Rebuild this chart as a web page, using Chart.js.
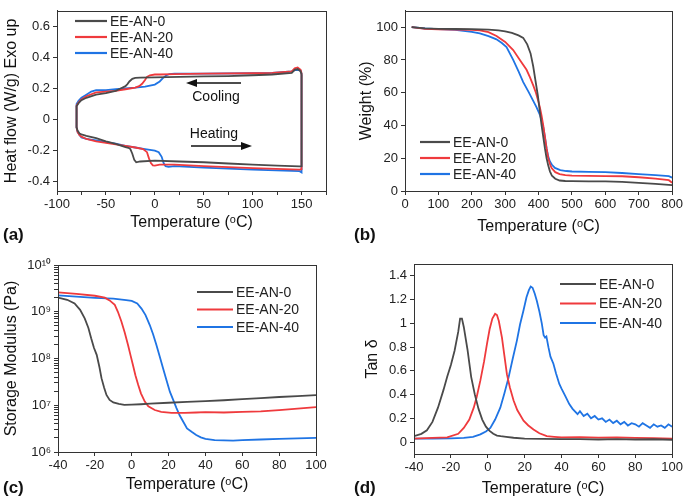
<!DOCTYPE html>
<html>
<head>
<meta charset="utf-8">
<script src="https://cdn.jsdelivr.net/npm/chart.js@4.4.1/dist/chart.umd.min.js"></script>
<style>
  body { margin: 0; background: #fff; width: 685px; height: 500px; position: relative; overflow: hidden; font-family: "Liberation Sans", Arial, sans-serif; }
  canvas { position: absolute; }
  .tag { position: absolute; font-weight: bold; font-size: 17px; color: #111; }
</style>
</head>
<body>
<canvas id="dscChart" width="340" height="250" style="left:0;top:0"></canvas>
<canvas id="tgaChart" width="345" height="250" style="left:340px;top:0"></canvas>
<canvas id="modChart" width="340" height="250" style="left:0;top:250px"></canvas>
<canvas id="tanChart" width="345" height="250" style="left:340px;top:250px"></canvas>
<div class="tag" style="left:3px;top:225px">(a)</div>
<div class="tag" style="left:354px;top:225px">(b)</div>
<div class="tag" style="left:3px;top:478px">(c)</div>
<div class="tag" style="left:354px;top:478px">(d)</div>
<script>
const seriesNames = ['EE-AN-0', 'EE-AN-20', 'EE-AN-40'];
const seriesColors = ['#4a4a4a', '#ef3a3d', '#1f74e4'];

// (a) DSC loops: cooling 150 -> -80 then heating -80 -> 150
const aTemp0 = [150,149,146,143,140,120,100,75,50,25,0,-15,-20,-23,-26,-28,-30,-35,-40,-50,-60,-70,-75,-78,-80,-80,-79,-77,-75,-70,-60,-50,-40,-30,-27,-25,-23,-21,-19,-15,0,25,50,75,100,125,148,150,150];
const aFlow0 = [0.29,0.31,0.325,0.32,0.3,0.29,0.285,0.28,0.278,0.275,0.272,0.27,0.268,0.262,0.245,0.228,0.215,0.2,0.185,0.17,0.16,0.14,0.125,0.105,0.085,-0.05,-0.07,-0.09,-0.095,-0.105,-0.12,-0.14,-0.157,-0.178,-0.182,-0.19,-0.22,-0.26,-0.275,-0.27,-0.265,-0.27,-0.275,-0.283,-0.29,-0.297,-0.302,-0.3,0.29];
const aTemp20 = [150,149,146,143,140,120,100,50,20,5,0,-5,-8,-10,-13,-16,-20,-30,-40,-50,-60,-70,-75,-78,-80,-80,-79,-77,-75,-70,-60,-50,-40,-30,-20,-12,-8,-6,-4,-2,0,5,20,50,100,148,150,150];
const aFlow20 = [0.3,0.32,0.335,0.33,0.31,0.3,0.298,0.295,0.293,0.29,0.29,0.285,0.275,0.255,0.23,0.215,0.205,0.195,0.185,0.18,0.175,0.15,0.13,0.11,0.09,-0.05,-0.08,-0.1,-0.11,-0.125,-0.14,-0.15,-0.16,-0.17,-0.18,-0.19,-0.21,-0.25,-0.28,-0.295,-0.297,-0.29,-0.29,-0.3,-0.313,-0.322,-0.32,0.3];
const aTemp40 = [150,149,146,143,140,120,100,50,20,15,12,8,5,0,-10,-20,-30,-40,-50,-60,-65,-70,-75,-78,-80,-80,-79,-77,-75,-70,-60,-50,-40,-30,-20,-10,0,4,7,9,11,14,20,50,100,148,150,150];
const aFlow40 = [0.3,0.315,0.32,0.318,0.31,0.3,0.298,0.296,0.295,0.293,0.285,0.265,0.245,0.225,0.212,0.205,0.2,0.195,0.19,0.19,0.18,0.16,0.14,0.12,0.1,-0.05,-0.08,-0.1,-0.115,-0.125,-0.135,-0.145,-0.155,-0.17,-0.18,-0.19,-0.2,-0.21,-0.24,-0.28,-0.3,-0.305,-0.3,-0.31,-0.323,-0.332,-0.34,0.3];
const aXTicks = [-100, -50, 0, 50, 100, 150];
const aXMinor = [-75, -25, 25, 75, 125, 175];
const aYTicks = [-0.4, -0.2, 0, 0.2, 0.4, 0.6];

// (b) TGA
const bTemp0 = [20,60,100,150,200,250,280,300,320,340,354,366,376,384,391,398,404,409,414,419,424,429,434,440,450,463,480,500,550,600,650,700,750,800];
const bWt0 = [100,99.3,99,98.9,98.8,98.5,98,97.5,96.5,95,93.5,89.5,84,76,67,58,48,40,33,26,20,15.5,12,9.3,7.5,6.4,6.1,6,5.9,5.9,5.6,5,4.4,3.6];
const bTemp20 = [20,60,100,150,200,224,250,274,300,324,344,364,374,384,392,399,404,409,414,419,424,429,434,439,450,463,480,500,550,600,650,700,750,790,800];
const bWt20 = [100,99,98.7,98.6,98.4,98,97,94.6,91,86,80,74,69.5,64.5,60,55,51,46,40,33,26,20,16.5,14,11.5,10.3,9.7,9.4,9.2,9.1,9,8.4,7.6,6.6,5];
const bTemp40 = [20,60,100,150,200,224,250,274,290,304,324,340,354,370,384,394,404,409,414,419,424,429,434,440,449,465,483,500,550,600,650,700,750,790,800];
const bWt40 = [100,99.2,98.8,98.3,97.2,96.2,94.5,92.6,90.3,87.8,80,73,66.5,60.5,55,51,46.5,43,39,33,26,21,18,16,14.1,12.8,12.2,11.9,11.7,11.5,11,10.3,9.7,9.1,8.2];
const bXTicks = [0, 100, 200, 300, 400, 500, 600, 700, 800];
const bYTicks = [0, 20, 40, 60, 80, 100];

// (c) storage modulus, Pa
const cTemp0 = [-40,-35,-31,-28,-25.5,-23.5,-22,-20.5,-19,-17.5,-16.4,-15,-13.7,-12,-10,-7,-4,0,5,10,20,30,40,50,60,70,80,90,100];
const cMod0 = [2.0e9,1.8e9,1.5e9,1.1e9,7.2e8,4.5e8,2.7e8,1.7e8,1.2e8,6.5e7,3.8e7,2.4e7,1.66e7,1.3e7,1.15e7,1.07e7,1.02e7,1.03e7,1.05e7,1.08e7,1.13e7,1.18e7,1.23e7,1.28e7,1.35e7,1.42e7,1.5e7,1.57e7,1.64e7];
const cTemp20 = [-40,-30,-20,-14.6,-12,-9.2,-7.5,-5.6,-3.8,-2,-0.6,0.7,2,3.5,5,7.1,9,12.5,16,21.6,28.8,35,40,50,60,70,80,90,100];
const cMod20 = [2.6e9,2.4e9,2.2e9,2.0e9,1.75e9,1.4e9,1.0e9,6.2e8,3.6e8,1.95e8,1.15e8,7.2e7,4.4e7,2.75e7,1.8e7,1.2e7,9.5e6,7.9e6,7.2e6,6.9e6,6.9e6,7.0e6,7.1e6,7.0e6,7.2e6,7.4e6,7.9e6,8.5e6,9.1e6];
const cTemp40 = [-40,-30,-20,-10,-3,0,3,5.3,7.5,9.8,11.6,13.4,15.2,17,18.8,20.7,22.5,24.3,26,27.9,30,32.5,35,37.5,40,45,50,55,60,70,80,90,100];
const cMod40 = [2.24e9,2.1e9,1.98e9,1.9e9,1.78e9,1.7e9,1.5e9,1.17e9,8.5e8,5.2e8,3.3e8,1.95e8,1.1e8,6.2e7,3.5e7,1.95e7,1.3e7,8.7e6,6.1e6,4.5e6,3.2e6,2.7e6,2.3e6,2.05e6,1.9e6,1.8e6,1.78e6,1.75e6,1.8e6,1.85e6,1.9e6,1.95e6,2.0e6];
const cXTicks = [-40, -20, 0, 20, 40, 60, 80, 100];
const cYTicks = [1e6, 1e7, 1e8, 1e9, 1e10];
const cYMinor = [2e6, 3e6, 4e6, 5e6, 6e6, 7e6, 8e6, 9e6, 2e7, 3e7, 4e7, 5e7, 6e7, 7e7, 8e7, 9e7,
                 2e8, 3e8, 4e8, 5e8, 6e8, 7e8, 8e8, 9e8, 2e9, 3e9, 4e9, 5e9, 6e9, 7e9, 8e9, 9e9];

// (d) tan delta
const dTemp0 = [-40,-36,-33,-30,-27,-24,-22,-20,-18,-16,-15,-14,-13,-11,-9,-7,-5,-3,-1,1,3,5,7,10,14,20,30,40,50,60,70,80,90,100];
const dTan0 = [0.05,0.07,0.1,0.17,0.29,0.44,0.55,0.65,0.77,0.93,1.04,1.04,0.97,0.78,0.55,0.4,0.28,0.19,0.13,0.095,0.07,0.055,0.05,0.045,0.037,0.03,0.028,0.025,0.026,0.022,0.025,0.022,0.024,0.02];
const dTemp20 = [-40,-30,-22,-16,-13,-10,-7.6,-6,-4,-2,-0.4,1,2.5,4,5,6,7.7,9,10.4,12,14,16,19.4,22,24.8,28,32,36,40,50,60,70,80,90,100];
const dTan20 = [0.03,0.035,0.04,0.07,0.12,0.19,0.29,0.38,0.52,0.68,0.83,0.95,1.04,1.08,1.07,1.02,0.88,0.73,0.57,0.46,0.35,0.27,0.18,0.14,0.107,0.075,0.05,0.045,0.04,0.042,0.038,0.04,0.035,0.033,0.03];
const dTemp40 = [-40,-30,-20,-13,-8,-4,-1,1.4,4,6.8,9,11.3,13.5,15.8,17.5,19.4,21,22.3,23.3,24.3,25.5,26.6,28,29.3,30.3,31.1,31.8,32.9,34,35.6,37,38.8,40,42,44.2,46,48.7,50,52,54,56,58,60,62,64,66,68,70,72,74,76,78,80,82,84,86,88,90,92,94,96,98,100];
const dTan40 = [0.03,0.03,0.032,0.035,0.045,0.065,0.09,0.12,0.19,0.29,0.41,0.545,0.7,0.855,0.99,1.11,1.22,1.28,1.31,1.3,1.25,1.19,1.1,1.0,0.9,0.88,0.89,0.8,0.72,0.66,0.58,0.49,0.45,0.39,0.32,0.28,0.235,0.26,0.22,0.24,0.2,0.22,0.19,0.2,0.17,0.19,0.16,0.18,0.15,0.17,0.14,0.16,0.15,0.13,0.16,0.14,0.12,0.15,0.13,0.14,0.12,0.15,0.13];
const dXTicks = [-40, -20, 0, 20, 40, 60, 80, 100];
const dYTicks = [0, 0.2, 0.4, 0.6, 0.8, 1, 1.2, 1.4];

const tempTitle = 'Temperature (\u1D52C)';
const supers = { 6: '\u2076', 7: '\u2077', 8: '\u2078', 9: '\u2079', 10: '\u00B9\u2070' };

Chart.defaults.font.family = '"Liberation Sans", Arial, sans-serif';
Chart.defaults.color = '#222';

// frame around the plot area
const boxPlugin = {
  id: 'box',
  afterDraw(chart) {
    const a = chart.chartArea, c = chart.ctx;
    c.save();
    c.strokeStyle = '#333';
    c.lineWidth = 1;
    c.strokeRect(Math.round(a.left) + 0.5, Math.round(a.top) + 0.5, Math.round(a.right - a.left), Math.round(a.bottom - a.top));
    c.restore();
  }
};

// legend inside the plot
const keyPlugin = {
  id: 'key',
  afterDraw(chart, args, o) {
    const c = chart.ctx;
    c.save();
    c.font = '14px "Liberation Sans", Arial, sans-serif';
    c.textBaseline = 'middle';
    chart.data.datasets.forEach((ds, i) => {
      const y = o.y + i * o.gap;
      c.strokeStyle = ds.borderColor;
      c.lineWidth = 2.2;
      c.beginPath();
      c.moveTo(o.x, y);
      c.lineTo(o.x + o.len, y);
      c.stroke();
      c.fillStyle = '#222';
      c.fillText(ds.label, o.x + o.len + 3, y + 1);
    });
    c.restore();
  }
};

// Cooling / Heating arrows for the DSC panel
const arrowPlugin = {
  id: 'arrows',
  afterDraw(chart, args, o) {
    if (!o.on) return;
    const c = chart.ctx;
    c.save();
    c.fillStyle = '#111';
    c.strokeStyle = '#111';
    c.lineWidth = 1.5;
    c.font = '14px "Liberation Sans", Arial, sans-serif';
    c.textAlign = 'center';
    c.textBaseline = 'middle';
    const arrow = (x1, x2, y) => {
      const d = Math.sign(x2 - x1);
      c.beginPath(); c.moveTo(x1, y); c.lineTo(x2 - d * 8, y); c.stroke();
      c.beginPath(); c.moveTo(x2, y); c.lineTo(x2 - d * 11, y - 4); c.lineTo(x2 - d * 11, y + 4); c.closePath(); c.fill();
    };
    arrow(241, 186, 83);
    c.fillText('Cooling', 216, 97);
    c.fillText('Heating', 214, 134);
    arrow(191, 252, 146);
    c.restore();
  }
};

function fixTicks(major, minor) {
  const all = major.concat(minor || []).sort((p, q) => p - q);
  return scale => { scale.ticks = all.map(v => ({ value: v })); };
}

function panel(id, p) {
  const axisStyle = {
    grid: { display: true, drawOnChartArea: false, drawTicks: true, tickLength: 4, color: '#333' },
    border: { display: true, color: '#333' }
  };
  const yFmt = p.yLabel || (v => String(v));
  return new Chart(document.getElementById(id), {
    type: 'scatter',
    data: {
      datasets: p.xs.map((xs, i) => ({
        label: seriesNames[i],
        data: xs.map((x, k) => ({ x: x, y: p.ys[i][k] })),
        borderColor: seriesColors[i],
        backgroundColor: seriesColors[i],
        showLine: true,
        pointRadius: 0,
        borderWidth: 1.8,
        tension: 0
      }))
    },
    options: {
      responsive: false,
      animation: false,
      devicePixelRatio: 1,
      layout: { padding: { left: p.padLeft, top: p.top, right: p.right, bottom: p.padBottom } },
      plugins: {
        legend: { display: false },
        tooltip: { enabled: false },
        key: p.key,
        arrows: { on: !!p.arrows }
      },
      scales: {
        x: Object.assign({
          type: 'linear', min: p.xMin, max: p.xMax,
          afterBuildTicks: fixTicks(p.xTicks, p.xMinor),
          afterFit: s => { s.height = p.xHeight; },
          ticks: { font: { size: 13 }, padding: 2, maxRotation: 0, autoSkip: false, color: '#222',
                   callback: v => p.xTicks.includes(v) ? String(v) : '' },
          title: { display: true, text: tempTitle, font: { size: 16 }, padding: 0, color: '#111' }
        }, axisStyle),
        y: Object.assign({
          type: p.yType || 'linear', min: p.yMin, max: p.yMax,
          afterBuildTicks: fixTicks(p.yTicks, p.yMinor),
          afterFit: s => { s.width = p.yWidth; },
          ticks: { font: { size: 13 }, padding: 3, autoSkip: false, color: '#222',
                   callback: v => p.yTicks.includes(v) ? yFmt(v) : '' },
          title: { display: true, text: p.yTitle, font: { size: 16 }, padding: 0, color: '#111' }
        }, axisStyle)
      }
    },
    plugins: [boxPlugin, keyPlugin, arrowPlugin]
  });
}

panel('dscChart', {
  xs: [aTemp0, aTemp20, aTemp40], ys: [aFlow0, aFlow20, aFlow40],
  xMin: -100, xMax: 175, yMin: -0.46, yMax: 0.7, xTicks: aXTicks, xMinor: aXMinor, yTicks: aYTicks,
  yTitle: 'Heat flow (W/g) Exo up',
  padLeft: 2, yWidth: 55, top: 5, right: 14, padBottom: 18, xHeight: 41,
  key: { x: 75, y: 21, gap: 16, len: 32 },
  arrows: true
});

panel('tgaChart', {
  xs: [bTemp0, bTemp20, bTemp40], ys: [bWt0, bWt20, bWt40],
  xMin: 0, xMax: 800, yMin: 0, yMax: 110, xTicks: bXTicks, yTicks: bYTicks,
  yTitle: 'Weight (%)',
  padLeft: 17, yWidth: 48, top: 2, right: 12, padBottom: 14, xHeight: 45,
  key: { x: 80, y: 142, gap: 16, len: 30 }
});

panel('modChart', {
  xs: [cTemp0, cTemp20, cTemp40], ys: [cMod0, cMod20, cMod40],
  xMin: -40, xMax: 100, yType: 'logarithmic', yMin: 1e6, yMax: 1e10, xTicks: cXTicks, yTicks: cYTicks, yMinor: cYMinor,
  yLabel: v => '10' + supers[Math.round(Math.log10(v))],
  yTitle: 'Storage Modulus (Pa)',
  padLeft: 2, yWidth: 56, top: 15, right: 24, padBottom: 6, xHeight: 42,
  key: { x: 197, y: 42, gap: 17.5, len: 36 }
});

panel('tanChart', {
  xs: [dTemp0, dTemp20, dTemp40], ys: [dTan0, dTan20, dTan40],
  xMin: -40, xMax: 100, yMin: -0.1, yMax: 1.5, xTicks: dXTicks, yTicks: dYTicks,
  yTitle: 'Tan \u03B4',
  padLeft: 23, yWidth: 51, top: 14, right: 12, padBottom: 2, xHeight: 44,
  key: { x: 220, y: 34, gap: 19.5, len: 36 }
});
</script>
</body>
</html>
